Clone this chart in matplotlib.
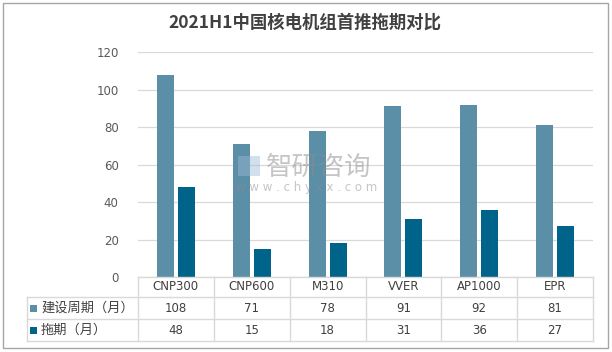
import matplotlib
matplotlib.use("Agg")
import matplotlib.pyplot as plt
from matplotlib.patches import Rectangle
from matplotlib.lines import Line2D

plt.rcParams['font.family'] = ['Noto Sans CJK SC', 'DejaVu Sans']

title = "2021H1中国核电机组首推拖期对比"
categories = ["CNP300", "CNP600", "M310", "VVER", "AP1000", "EPR"]
series_names = ["建设周期（月）", "拖期（月）"]
build_period = [108, 71, 78, 91, 92, 81]
delay_period = [48, 15, 18, 31, 36, 27]
yticks = [0, 20, 40, 60, 80, 100, 120]

c_light = "#5B8FA8"
c_dark = "#00638A"
grid_c = "#D9D9D9"
text_c = "#404040"
tick_c = "#595959"

W, H = 612, 352
fig = plt.figure(figsize=(W / 100, H / 100), dpi=100)

def fx(px):
    return px / W

def fy(py):
    return 1 - py / H

# outer border
fig.patches.append(Rectangle((fx(3), fy(348)), fx(605), (345) / H, transform=fig.transFigure,
                             fill=False, edgecolor="#A6A6A6", linewidth=1.0))

left, right, top, bottom = 138, 593, 52, 277
ax = fig.add_axes([fx(left), fy(bottom), fx(right - left), (bottom - top) / H])
n = len(categories)
x = list(range(n))
bw = 0.225
off = 0.138
ax.bar([i - off for i in x], build_period, width=bw, color=c_light, zorder=3)
ax.bar([i + off for i in x], delay_period, width=bw, color=c_dark, zorder=3)
ax.set_xlim(-0.5, n - 0.5)
ax.set_ylim(0, 120)
ax.set_yticks(yticks)
ax.yaxis.grid(True, color=grid_c, linewidth=0.9, zorder=0)
ax.set_axisbelow(True)
for s in ax.spines.values():
    s.set_visible(False)
ax.set_xticks([])
ax.tick_params(axis='y', length=0, pad=14, labelsize=8.5, labelcolor=tick_c)
for lab in ax.get_yticklabels():
    lab.set_family(['DejaVu Sans'])

# title
fig.text(fx(305), fy(23), title, ha='center', va='center', fontsize=12.5,
         fontweight='bold', color=text_c)

# table lines
def hline(y, x0, x1):
    fig.add_artist(Line2D([fx(x0), fx(x1)], [fy(y), fy(y)], transform=fig.transFigure,
                          color=grid_c, linewidth=1.0))

def vline(xp, y0, y1):
    fig.add_artist(Line2D([fx(xp), fx(xp)], [fy(y0), fy(y1)], transform=fig.transFigure,
                          color=grid_c, linewidth=1.0))

row_y = [277, 297, 319, 341]
tab_left = 27
hline(row_y[0], left, right)
for y in row_y[1:]:
    hline(y, tab_left, right)
vline(tab_left, row_y[1], row_y[3])
colw = (right - left) / n
for i in range(n + 1):
    vline(left + i * colw, row_y[0], row_y[3])

# table text
for i, cat in enumerate(categories):
    cx = left + (i + 0.5) * colw
    fig.text(fx(cx), fy((row_y[0] + row_y[1]) / 2), cat, ha='center', va='center',
             fontsize=8.5, color=text_c, family=['DejaVu Sans'])
    fig.text(fx(cx), fy((row_y[1] + row_y[2]) / 2), str(build_period[i]), ha='center',
             va='center', fontsize=8.5, color=text_c, family=['DejaVu Sans'])
    fig.text(fx(cx), fy((row_y[2] + row_y[3]) / 2), str(delay_period[i]), ha='center',
             va='center', fontsize=8.5, color=text_c, family=['DejaVu Sans'])

for k, (name, col) in enumerate(zip(series_names, [c_light, c_dark])):
    cy = (row_y[k + 1] + row_y[k + 2]) / 2
    fig.patches.append(Rectangle((fx(30), fy(cy + 3.5)), fx(7), 7 / H,
                                 transform=fig.transFigure, facecolor=col, edgecolor='none'))
    fig.text(fx(41), fy(cy), name, ha='left', va='center', fontsize=9.5, color=text_c)

# watermark
fig.patches.append(Rectangle((fx(238), fy(176)), fx(22), 20 / H, transform=fig.transFigure,
                             facecolor="#9DB9D6", edgecolor='none', alpha=0.45))
fig.text(fx(266), fy(167), "智研咨询", ha='left', va='center', fontsize=19,
         color="#8C8C8C", alpha=0.5)
fig.text(fx(307), fy(187), "w w w . c h y x x . c o m", ha='center', va='center', fontsize=8.5,
         color="#8C8C8C", alpha=0.5, family=['DejaVu Sans'])

fig.savefig("out.png", dpi=100)
